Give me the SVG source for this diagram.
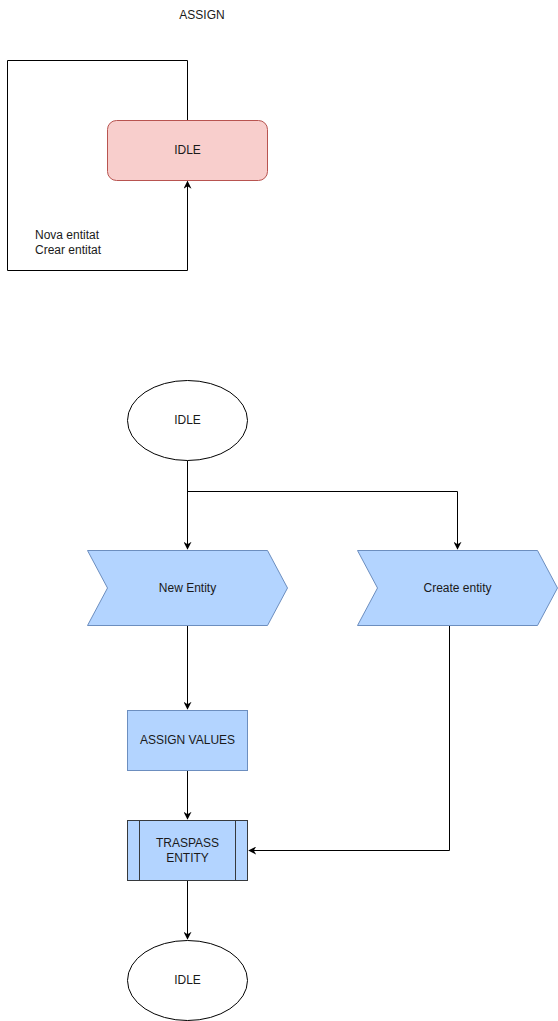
<svg xmlns="http://www.w3.org/2000/svg" width="558" height="1021" viewBox="0 0 558 1021">
<defs>
<style>
text{font-family:"Liberation Sans",Arial,sans-serif;font-size:12px;fill:#1a1a1a;text-anchor:middle;dominant-baseline:central}
.c{fill:none;stroke:#000;stroke-width:1}
.b{fill:#b3d4ff;stroke:#6c8ebf;stroke-width:1}
.d{fill:none;stroke:#36393d;stroke-width:1}
.e{fill:#fff;stroke:#000;stroke-width:1}
</style>
<marker id="a" viewBox="0 0 10 10" refX="9" refY="5" markerWidth="8" markerHeight="8" markerUnits="userSpaceOnUse" orient="auto">
<path d="M0,0 L10,5 L0,10 L3,5 Z" fill="#000"/>
</marker>
</defs>
<g id="title"><text x="202" y="14.5">ASSIGN</text></g>
<g id="connectors">
<path class="c" d="M187.5,120.5 V60.5 H7.5 V270.5 H187.5 V181.5" marker-end="url(#a)"/>
<path class="c" d="M187.5,460.5 V549" marker-end="url(#a)"/>
<path class="c" d="M187.5,491.5 H457.5 V549" marker-end="url(#a)"/>
<path class="c" d="M187.5,625.5 V709" marker-end="url(#a)"/>
<path class="c" d="M187.5,770.5 V819" marker-end="url(#a)"/>
<path class="c" d="M449.5,625.5 V850.5 H249" marker-end="url(#a)"/>
<path class="c" d="M187.5,880.5 V939" marker-end="url(#a)"/>
</g>
<g id="loop-label"><text x="67" y="234.5">Nova entitat</text><text x="68" y="249.5">Crear entitat</text></g>
<g id="idle-top"><rect x="107.5" y="120.5" width="160" height="60" rx="9" fill="#f8cecc" stroke="#b85450"/><text x="187.5" y="149.5">IDLE</text></g>
<g id="idle1"><ellipse class="e" cx="187.5" cy="420.5" rx="60" ry="40"/><text x="187.5" y="419.5">IDLE</text></g>
<g id="new-entity"><path class="b" d="M87.5,550.5 H267.5 L287.5,588 L267.5,625.5 H87.5 L107.5,588 Z"/><text x="187.5" y="587.5">New Entity</text></g>
<g id="create-entity"><path class="b" d="M357.5,550.5 H537.5 L557.5,588 L537.5,625.5 H357.5 L377.5,588 Z"/><text x="457.5" y="587.5">Create entity</text></g>
<g id="assign-values"><rect class="b" x="127.5" y="710.5" width="120" height="60"/><text x="187.5" y="739.5">ASSIGN VALUES</text></g>
<g id="traspass"><rect class="b" x="127.5" y="820.5" width="120" height="60" style="stroke:#36393d"/><path class="d" d="M139.5,820.5 V880.5 M235.5,820.5 V880.5"/><text x="187.5" y="842.5">TRASPASS</text><text x="187.5" y="857.5">ENTITY</text></g>
<g id="idle2"><ellipse class="e" cx="187.5" cy="980.5" rx="60" ry="40"/><text x="187.5" y="979.5">IDLE</text></g>
</svg>
